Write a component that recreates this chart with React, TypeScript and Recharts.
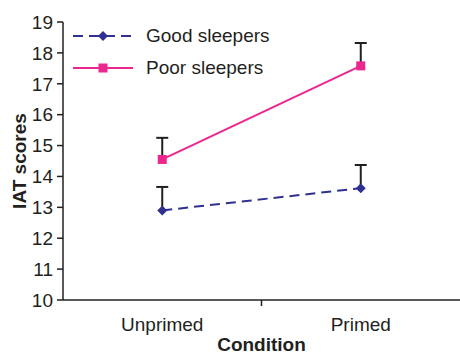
import { LineChart, Line, XAxis, YAxis, ErrorBar, Legend } from 'recharts'

const conditions = ['Unprimed', 'Primed']
const goodMean = [12.9, 13.62]
const goodSE = [0.76, 0.75]
const poorMean = [14.55, 17.58]
const poorSE = [0.7, 0.74]
const yTicks = [10, 11, 12, 13, 14, 15, 16, 17, 18, 19]

const GOOD = '#2e3192'
const POOR = '#ec268f'
const INK = '#231f20'
const FONT = '"Liberation Sans", Arial, sans-serif'

const data = conditions.map((c, i) => ({
  x: i + 0.5,
  name: c,
  good: goodMean[i],
  goodErr: [0, goodSE[i]],
  goodTop: goodMean[i] + goodSE[i],
  poor: poorMean[i],
  poorErr: [0, poorSE[i]],
  poorTop: poorMean[i] + poorSE[i],
}))

function Diamond(props: any) {
  const { cx, cy } = props
  if (cx == null || cy == null) return null
  return <polygon points={`${cx},${cy - 5} ${cx + 5},${cy} ${cx},${cy + 5} ${cx - 5},${cy}`} fill={GOOD} />
}

function Square(props: any) {
  const { cx, cy } = props
  if (cx == null || cy == null) return null
  return <rect x={cx - 4.5} y={cy - 4.5} width={9} height={9} fill={POOR} />
}

function Cap(props: any) {
  const { cx, cy } = props
  if (cx == null || cy == null) return null
  return <line x1={cx - 6} x2={cx + 6} y1={cy} y2={cy} stroke={INK} strokeWidth={2} />
}

function XTick(props: any) {
  const { x, y, payload } = props
  if (payload.value === 1) {
    return <line x1={x} x2={x} y1={y - 6} y2={y} stroke={INK} strokeWidth={1.5} />
  }
  const i = Math.round(payload.value - 0.5)
  return (
    <text x={x} y={y + 24.5} textAnchor="middle" fill={INK} fontSize={19} fontFamily={FONT}>
      {conditions[i]}
    </text>
  )
}

function LegendBox() {
  const rows = [
    { label: 'Good sleepers', color: GOOD, dash: '10 6', marker: 'diamond' },
    { label: 'Poor sleepers', color: POOR, dash: undefined, marker: 'square' },
  ]
  return (
    <div>
      {rows.map((r) => (
        <div key={r.label} style={{ display: 'flex', alignItems: 'center', height: 32 }}>
          <svg width={60} height={12} style={{ marginRight: 13 }}>
            <line x1={0} x2={60} y1={6} y2={6} stroke={r.color} strokeWidth={2} strokeDasharray={r.dash} />
            {r.marker === 'diamond' ? (
              <polygon points="30,1 35,6 30,11 25,6" fill={r.color} />
            ) : (
              <rect x={25.5} y={1.5} width={9} height={9} fill={r.color} />
            )}
          </svg>
          <span style={{ fontSize: 19, fontFamily: FONT, color: INK, whiteSpace: 'nowrap' }}>{r.label}</span>
        </div>
      ))}
    </div>
  )
}

export default function App() {
  return (
    <div style={{ position: 'absolute', left: 0, top: 0, width: 460, height: 354, background: '#fff' }}>
      <LineChart width={460} height={354} data={data} margin={{ top: 22, right: 0, left: 0, bottom: 0 }}>
        <XAxis
          dataKey="x"
          type="number"
          domain={[0, 2]}
          ticks={[0.5, 1, 1.5]}
          tick={<XTick />}
          tickLine={false}
          tickSize={6}
          tickMargin={0}
          height={54}
          axisLine={{ stroke: INK, strokeWidth: 1.5 }}
          label={{
            content: ({ viewBox }: any) => (
              <text
                x={viewBox.x + viewBox.width / 2}
                y={viewBox.y + 51}
                textAnchor="middle"
                fill={INK}
                fontSize={19}
                fontWeight="bold"
                fontFamily={FONT}
              >
                Condition
              </text>
            ),
          }}
        />
        <YAxis
          type="number"
          domain={[10, 19]}
          ticks={yTicks}
          width={63}
          tickSize={6}
          tickMargin={4}
          tick={{ fill: INK, fontSize: 19, fontFamily: FONT }}
          tickLine={{ stroke: INK, strokeWidth: 1.5 }}
          axisLine={{ stroke: INK, strokeWidth: 1.5 }}
          label={{
            content: ({ viewBox }: any) => {
              const cx = viewBox.x + 19.5
              const cy = viewBox.y + viewBox.height / 2
              return (
                <text
                  x={cx}
                  y={cy}
                  transform={`rotate(-90, ${cx}, ${cy})`}
                  textAnchor="middle"
                  dominantBaseline="central"
                  fill={INK}
                  fontSize={19}
                  fontWeight="bold"
                  fontFamily={FONT}
                >
                  IAT scores
                </text>
              )
            },
          }}
        />
        <Legend
          layout="vertical"
          align="center"
          verticalAlign="middle"
          content={() => <LegendBox />}
          wrapperStyle={{ position: 'absolute', left: 73, top: 20, width: 'auto' }}
        />
        <Line dataKey="goodTop" stroke="none" dot={<Cap />} activeDot={false} legendType="none" isAnimationActive={false} />
        <Line dataKey="poorTop" stroke="none" dot={<Cap />} activeDot={false} legendType="none" isAnimationActive={false} />
        <Line
          dataKey="good"
          name="Good sleepers"
          stroke={GOOD}
          strokeWidth={2}
          strokeDasharray="10 6"
          dot={<Diamond />}
          activeDot={false}
          isAnimationActive={false}
        >
          <ErrorBar dataKey="goodErr" width={0} stroke={INK} strokeWidth={2} direction="y" />
        </Line>
        <Line
          dataKey="poor"
          name="Poor sleepers"
          stroke={POOR}
          strokeWidth={2}
          dot={<Square />}
          activeDot={false}
          isAnimationActive={false}
        >
          <ErrorBar dataKey="poorErr" width={0} stroke={INK} strokeWidth={2} direction="y" />
        </Line>
      </LineChart>
    </div>
  )
}
